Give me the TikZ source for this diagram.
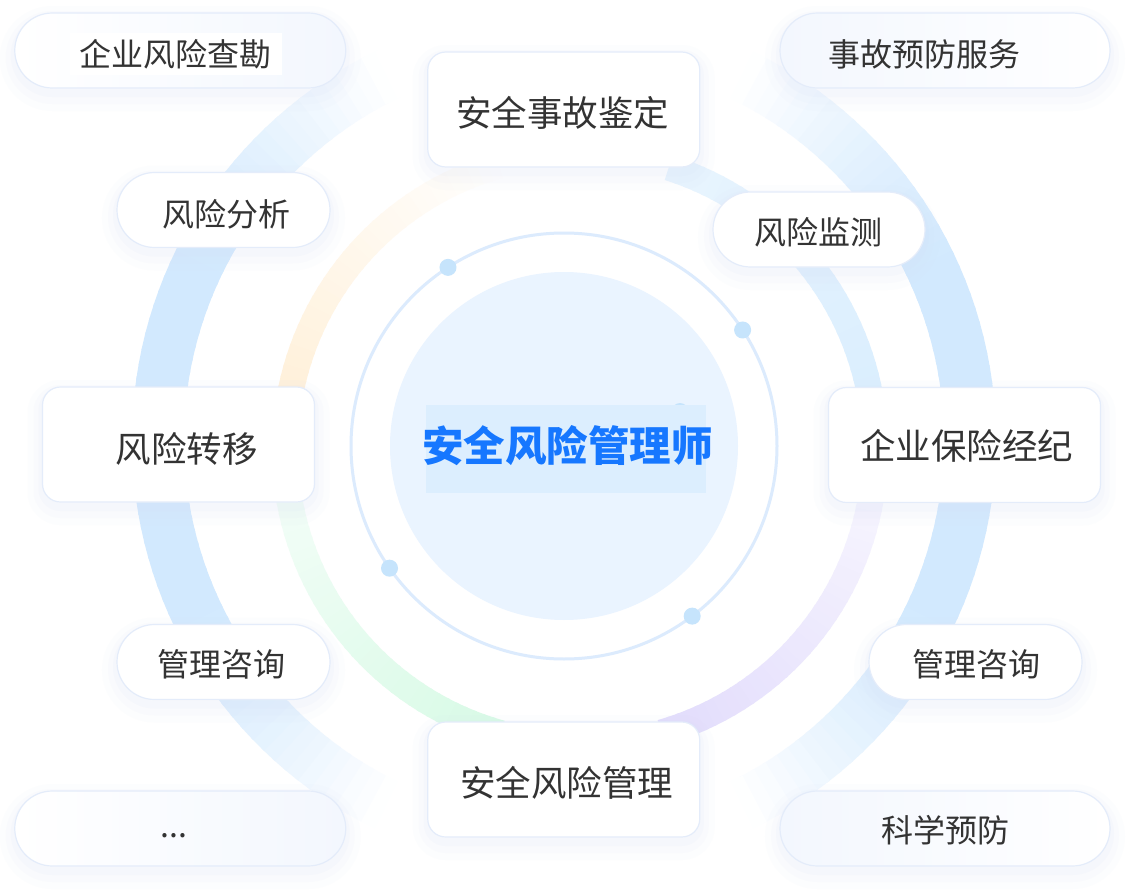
\documentclass[tikz,border=0pt]{standalone}
\usepackage{fontspec}
\setmainfont{Noto Sans CJK SC}

\definecolor{ringblue}{HTML}{D2E9FE}
\definecolor{ringsky}{HTML}{DAEEFE}
\definecolor{ringorange}{HTML}{FFEED4}
\definecolor{ringgreen}{HTML}{D8FAE6}
\definecolor{ringpurple}{HTML}{E2DCFC}
\definecolor{thinring}{HTML}{DCEBFD}
\definecolor{dotblue}{HTML}{C6E4FC}
\definecolor{diskblue}{HTML}{EAF4FF}
\definecolor{markblue}{HTML}{DCEEFE}
\definecolor{titleblue}{HTML}{1677FF}
\definecolor{cardline}{HTML}{E4ECFA}
\definecolor{cardshadow}{HTML}{D2DDF4}
\definecolor{pilltint}{HTML}{F3F7FE}
\definecolor{textgray}{HTML}{333333}

\tikzset{
  card/.style={draw=cardline, line width=1.2pt, fill=white, inner sep=0pt,
    preaction={draw=cardshadow, opacity=0.05, line width=30pt, transform canvas={yshift=-8pt}},
    preaction={draw=cardshadow, opacity=0.07, line width=18pt, transform canvas={yshift=-7pt}},
    preaction={draw=cardshadow, opacity=0.10, line width=8pt, transform canvas={yshift=-5pt}}},
  box/.style={card, rounded corners=18pt, minimum width=272pt, minimum height=115pt},
  pill/.style={card, rounded corners=37.5pt, minimum height=75pt},
  boxtext/.style={text=textgray, inner sep=0pt, font=\fontsize{35.5}{40}\selectfont},
  pilltext/.style={text=textgray, inner sep=0pt, font=\fontsize{32}{36}\selectfont}
}

\begin{document}
\begin{tikzpicture}[x=1pt, y=-1pt]
    \useasboundingbox (0,0) rectangle (1136,894);
    \fill[white] (0,0) rectangle (1136,894);

    % outer ring, fading at top and bottom
    \foreach \a in {0,2,...,358} {
        \pgfmathsetmacro\p{max(0,min(100,(abs(cos(\a+1))-0.45)*220))}
        \draw[ringblue!\p!white, line width=52pt] (564,440) ++(\a:406) arc[start angle=\a, end angle=\a+2.5, radius=406];
    }

    % middle ring, four coloured arcs (y points down, so angles are negated)
    \foreach \a in {8,10,...,70} {
        \pgfmathsetmacro\p{100-0.6*(\a-8)}
        \draw[ringsky!\p!white, line width=26pt] (580,449) ++(-\a:295) arc[start angle=-\a, end angle=-\a-2.5, radius=295];
    }
    \foreach \a in {104,106,...,178} {
        \pgfmathsetmacro\p{100*(\a-104)/74}
        \draw[ringorange!\p!white, line width=26pt] (580,449) ++(-\a:295) arc[start angle=-\a, end angle=-\a-2.5, radius=295];
    }
    \foreach \a in {182,184,...,252} {
        \pgfmathsetmacro\p{25+75*(\a-182)/70}
        \draw[ringgreen!\p!white, line width=26pt] (580,449) ++(-\a:295) arc[start angle=-\a, end angle=-\a-2.5, radius=295];
    }
    \foreach \a in {286,288,...,354} {
        \pgfmathsetmacro\p{25+75*(354-\a)/68}
        \draw[ringpurple!\p!white, line width=26pt] (580,449) ++(-\a:295) arc[start angle=-\a, end angle=-\a-2.5, radius=295];
    }

    % inner ring with dots and the centre disk
    \draw[thinring, line width=3pt] (564,446) circle [radius=213];
    \foreach \a in {33,123,215,307}
        \fill[dotblue] (564,446) ++(-\a:213) circle [radius=8.5];
    \fill[diskblue] (564,446) circle [radius=174];
    \fill[dotblue] (680,411) circle [radius=8];
    \fill[markblue] (426,405) rectangle (706,493);
    \node[text=titleblue, inner sep=0pt, font=\fontsize{41.5}{46}\selectfont\bfseries] (shi) at (567.5,446) {安全风险管理师};

    % cards
    \node[box] (jianding) at (563.75,109.5) {};
    \node[box] (zhuanyi) at (178.5,444.5) {};
    \node[box] (jingji) at (964.5,445) {};
    \node[box] (guanli) at (563.75,779.5) {};
    \node[boxtext] (jianding-t) at (562.5,112.5) {安全事故鉴定};
    \node[boxtext] (zhuanyi-t) at (186.5,449) {风险转移};
    \node[boxtext] (jingji-t) at (966.5,446) {企业保险经纪};
    \node[boxtext] (guanli-t) at (566.5,783) {安全风险管理};

    % pills
    \node[pill, minimum width=331pt, left color=white, right color=pilltint] (kancha) at (180.25,50.5) {};
    \node[pill, minimum width=330pt, left color=pilltint, right color=white] (yufang) at (945,50.5) {};
    \node[pill, minimum width=213pt] (fenxi) at (223.5,210) {};
    \node[pill, minimum width=212pt] (jiance) at (819,229.5) {};
    \node[pill, minimum width=213pt] (zixun-l) at (223.5,662) {};
    \node[pill, minimum width=213pt] (zixun-r) at (975.5,662) {};
    \node[pill, minimum width=331pt, left color=white, right color=pilltint] (more) at (180.25,828.5) {};
    \node[pill, minimum width=330pt, left color=pilltint, right color=white] (kexue) at (945,828.5) {};
    \node[pilltext, fill=white, inner xsep=10pt, inner ysep=6pt] (kancha-t) at (175.5,54) {企业风险查勘};
    \node[pilltext] (yufang-t) at (924,54) {事故预防服务};
    \node[pilltext] (fenxi-t) at (226.5,214) {风险分析};
    \node[pilltext] (jiance-t) at (818,232.5) {风险监测};
    \node[pilltext] (zixun-l-t) at (221.5,664) {管理咨询};
    \node[pilltext] (zixun-r-t) at (976.5,664) {管理咨询};
    \node[pilltext, anchor=base] (more-t) at (174,837) {...};
    \node[pilltext] (kexue-t) at (945.5,830) {科学预防};
\end{tikzpicture}
\end{document}
